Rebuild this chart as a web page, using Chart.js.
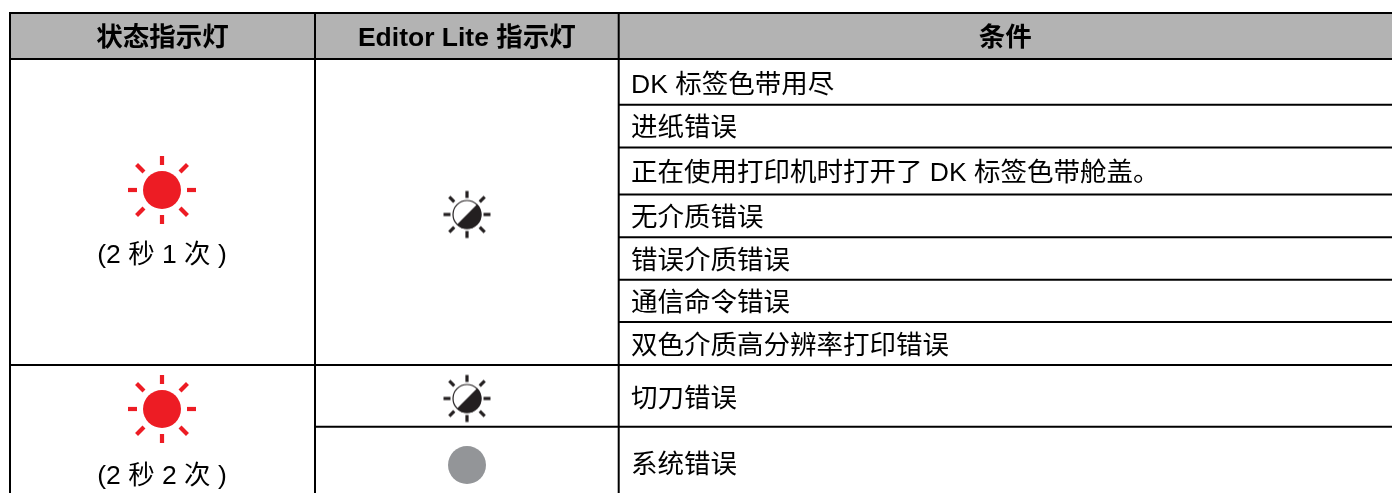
<!DOCTYPE html>
<html lang="zh-CN">
<head>
<meta charset="utf-8">
<style>
    html, body { margin: 0; padding: 0; background: #fff; overflow: hidden; }
    canvas { display: block; }
</style>
<script src="https://cdn.jsdelivr.net/npm/chart.js@4"></script>
</head>
<body>
<canvas id="lampTable" width="1392" height="493"></canvas>
<script>
// Table text
const headers = ['状态指示灯', 'Editor Lite 指示灯', '条件'];
const conditions = ['DK 标签色带用尽', '进纸错误', '正在使用打印机时打开了 DK 标签色带舱盖。', '无介质错误', '错误介质错误', '通信命令错误', '双色介质高分辨率打印错误', '切刀错误', '系统错误'];
const blinkLabels = ['(2 秒 1 次 )', '(2 秒 2 次 )'];

// Axis positions
const columnEdges = [10, 315, 618.7, 1392];
const rowEdges = [13, 59, 104.7, 147.5, 194.5, 237.3, 279.7, 322, 365, 426.7, 493];
const conditionRows = [84, 127, 172, 217, 260, 302, 345, 398, 464];
const blinkRows = [254, 475];

// Lamp positions
const redLamps = [{ x: 162, y: 190 }, { x: 162, y: 409 }];
const halfLamps = [{ x: 467, y: 214.5 }, { x: 467, y: 398.5 }];
const greyLamps = [{ x: 467, y: 465 }];

const INK = '#231f20';
const RED = '#ed1c24';
const GREY = '#939598';
const HEADER_FILL = '#b3b3b3';
const BODY_FONT = '"Liberation Sans", "Noto Sans CJK SC", sans-serif';

function rays(ctx, from, to, width, diagFrom, diagTo) {
    ctx.lineWidth = width;
    for (let i = 0; i < 8; i++) {
        const a = i * Math.PI / 4;
        const r0 = i % 2 ? diagFrom : from;
        const r1 = i % 2 ? diagTo : to;
        ctx.beginPath();
        ctx.moveTo(Math.cos(a) * r0, Math.sin(a) * r0);
        ctx.lineTo(Math.cos(a) * r1, Math.sin(a) * r1);
        ctx.stroke();
    }
}

function iconCanvas(size, paint) {
    const c = document.createElement('canvas');
    c.width = size;
    c.height = size;
    const ctx = c.getContext('2d');
    ctx.translate(size / 2, size / 2);
    paint(ctx);
    return c;
}

const redIcon = iconCanvas(80, ctx => {
    ctx.fillStyle = RED;
    ctx.strokeStyle = RED;
    ctx.beginPath();
    ctx.arc(0, 0, 19, 0, Math.PI * 2);
    ctx.fill();
    rays(ctx, 25, 34, 4.2, 25.5, 36);
});

const halfIcon = iconCanvas(60, ctx => {
    ctx.fillStyle = INK;
    ctx.strokeStyle = INK;
    rays(ctx, 16.5, 23.5, 3.2, 18, 25);
    ctx.beginPath();
    ctx.arc(0, 0, 14, 0, Math.PI * 2);
    ctx.lineWidth = 1.2;
    ctx.stroke();
    ctx.beginPath();
    ctx.arc(0, 0, 14.4, -Math.PI / 4, Math.PI * 3 / 4);
    ctx.closePath();
    ctx.fill();
});

const greyIcon = iconCanvas(44, ctx => {
    ctx.fillStyle = GREY;
    ctx.beginPath();
    ctx.arc(0, 0, 19, 0, Math.PI * 2);
    ctx.fill();
});

function rule(x1, y1, x2, y2, width = 2) {
    return {
        data: [{ x: x1, y: y1 }, { x: x2, y: y2 }],
        showLine: true,
        borderColor: '#000',
        borderWidth: width,
        pointRadius: 0,
        clip: false
    };
}

function lamps(points, icon) {
    return { data: points, pointStyle: icon, pointRadius: 10, showLine: false, clip: false };
}

const [left, col1, col2, right] = columnEdges;
const top0 = rowEdges[0];
const bottom = rowEdges[rowEdges.length - 1];
const rules = [
    rule(left - 1, top0, right, top0),
    rule(left - 1, rowEdges[1], right, rowEdges[1]),
    rule(left, top0, left, bottom),
    rule(col1, top0, col1, bottom),
    rule(col2, top0, col2, bottom),
    rule(left, rowEdges[8], right, rowEdges[8]),
    rule(col1, rowEdges[9], right, rowEdges[9])
];
// condition rows inside the first block only span the last column
rowEdges.slice(2, 8).forEach(y => rules.push(rule(col2, y, right, y)));

// header band + all the text, placed through the scales
const tableText = {
    id: 'tableText',
    beforeDatasetsDraw(chart) {
        const { ctx, scales: { x, y } } = chart;
        ctx.save();
        ctx.fillStyle = HEADER_FILL;
        ctx.fillRect(x.getPixelForValue(left), y.getPixelForValue(top0), x.getPixelForValue(right) - x.getPixelForValue(left), y.getPixelForValue(rowEdges[1]) - y.getPixelForValue(top0));
        ctx.restore();
    },
    afterDatasetsDraw(chart) {
        const { ctx, scales: { x, y } } = chart;
        const nudge = 2; // middle baseline sits a bit high for this font
        ctx.save();
        ctx.fillStyle = '#000';
        ctx.textBaseline = 'middle';

        ctx.font = 'bold 26.5px ' + BODY_FONT;
        ctx.textAlign = 'center';
        headers.forEach((h, i) => {
            const mid = (columnEdges[i] + columnEdges[i + 1]) / 2;
            ctx.fillText(h, x.getPixelForValue(mid), y.getPixelForValue(37 + nudge));
        });

        ctx.font = '26.5px ' + BODY_FONT;
        blinkLabels.forEach((t, i) => {
            ctx.fillText(t, x.getPixelForValue(162), y.getPixelForValue(blinkRows[i] + nudge));
        });

        ctx.textAlign = 'left';
        conditions.forEach((t, i) => {
            ctx.fillText(t, x.getPixelForValue(631), y.getPixelForValue(conditionRows[i] + nudge));
        });
        ctx.restore();
    }
};

new Chart(document.getElementById('lampTable').getContext('2d'), {
    type: 'scatter',
    data: {
        datasets: [
            ...rules,
            lamps(redLamps, redIcon),
            lamps(halfLamps, halfIcon),
            lamps(greyLamps, greyIcon)
        ]
    },
    options: {
        responsive: false,
        animation: false,
        layout: { padding: 0, autoPadding: false },
        scales: {
            x: { type: 'linear', min: 0, max: 1392, display: false },
            y: { type: 'linear', min: 0, max: 493, reverse: true, display: false }
        },
        plugins: {
            legend: { display: false },
            tooltip: { enabled: false }
        }
    },
    plugins: [tableText]
});
</script>
</body>
</html>
